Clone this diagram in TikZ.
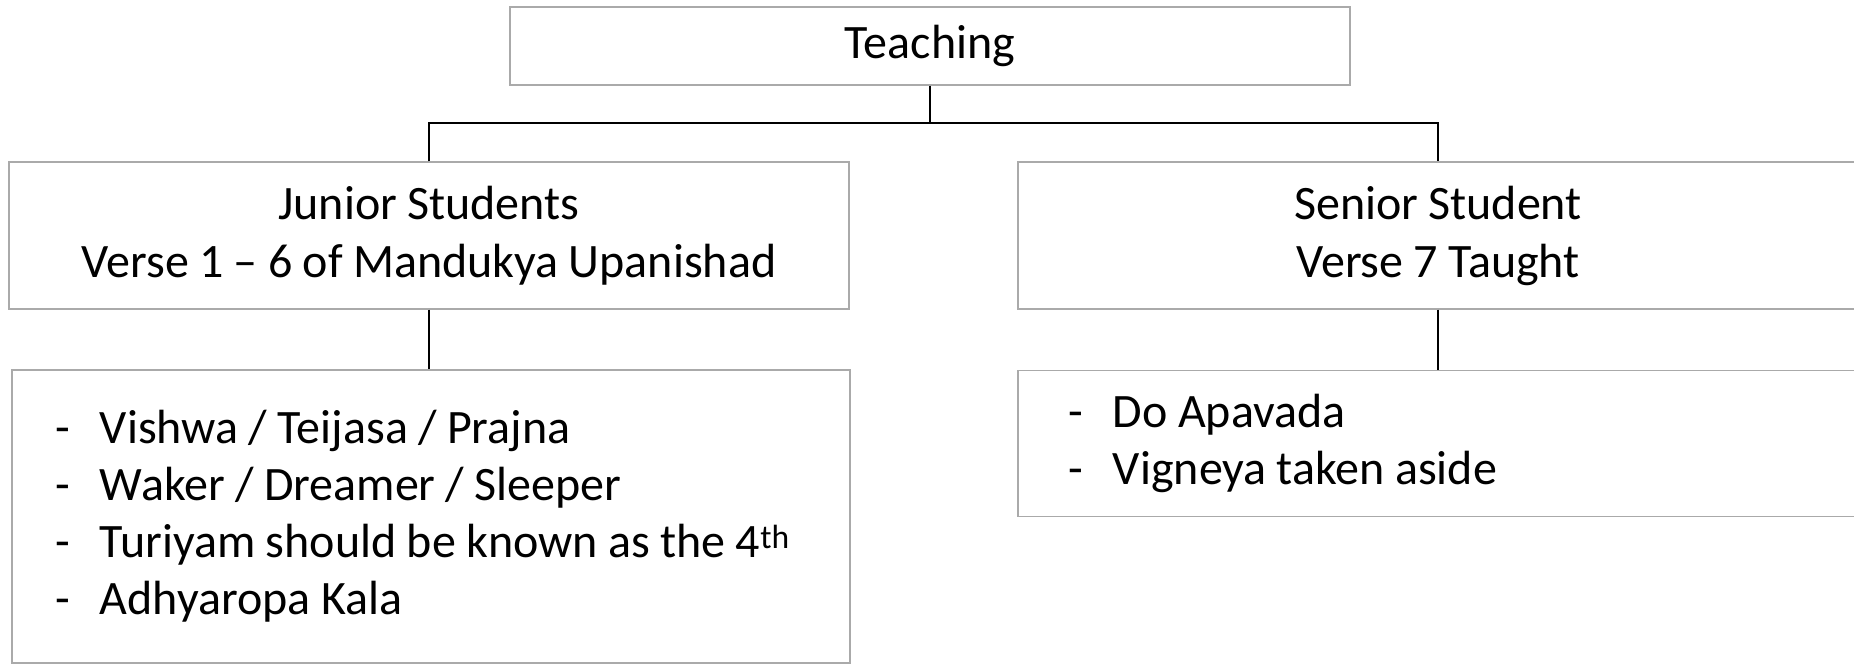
\documentclass[tikz,border=0pt]{standalone}
\usepackage{fontspec}
\setmainfont{Carlito}[WordSpace=0.95]
\begin{document}
\begin{tikzpicture}[x=1pt,y=-1pt,
  box/.style={draw=boxgray, line width=1.4pt, inner sep=0pt, align=center,
    font=\fontsize{48}{58}\selectfont},
  listbox/.style={draw=boxgray, line width=1.4pt, inner ysep=0pt, align=flush left,
    font=\fontsize{48}{57}\selectfont},
  link/.style={draw=black, line width=1.4pt}]
\definecolor{boxgray}{RGB}{170,170,170}
\newcommand{\dashitem}[1]{\makebox[45pt][l]{-}#1}
\useasboundingbox (0,0) rectangle (1854,665);
\begin{scope}
\clip (0,0) rectangle (1854,665);
% top level
\node[box, minimum width=840pt, minimum height=78pt] (teach) at (930,46) {Teaching};
% second level
\node[box, minimum width=840pt, minimum height=147pt] (junior) at (429,235.5)
  {Junior Students\\Verse 1 -- 6 of Mandukya Upanishad};
\node[box, minimum width=840pt, minimum height=147pt] (senior) at (1438,235.5)
  {Senior Student\\Verse 7 Taught};
% detail lists
\node[listbox, inner xsep=43pt, text width=752pt, minimum height=293pt] (jlist) at (431,516.5)
  {\dashitem{Vishwa / Teijasa / Prajna}\\
   \dashitem{Waker / Dreamer / Sleeper}\\
   \dashitem{Turiyam should be known as the 4\textsuperscript{th}}\\
   \dashitem{Adhyaropa Kala}};
\node[listbox, inner xsep=50pt, text width=740pt, minimum height=146pt] (slist) at (1438,443.5)
  {\dashitem{Do Apavada}\\
   \dashitem{Vigneya taken aside}};
% connectors
\coordinate (bus) at (930,123);
\draw[link] (teach.south) -- (bus);
\draw[link] (junior.north) |- (bus) -| (senior.north);
\draw[link] (junior.south) -- (jlist.north -| junior.south);
\draw[link] (senior.south) -- (senior.south |- slist.north);
\end{scope}
\end{tikzpicture}
\end{document}
